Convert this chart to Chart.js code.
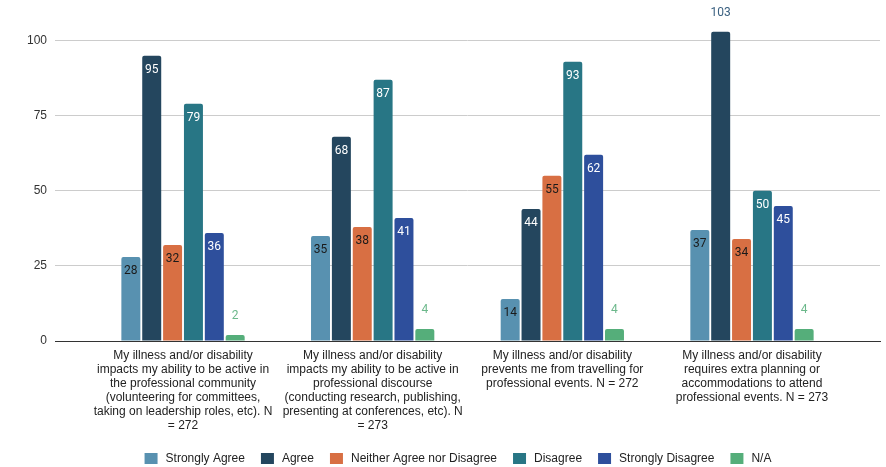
<!DOCTYPE html>
<html>
<head>
<meta charset="utf-8">
<script src="https://cdn.jsdelivr.net/npm/chart.js@4/dist/chart.umd.min.js"></script>
<style>
  html, body { margin: 0; padding: 0; background: #fff; }
  #wrap { width: 886px; height: 467px; }
</style>
</head>
<body>
<div id="wrap"><canvas id="chart"></canvas></div>
<script>
// Categories (x axis labels, already wrapped like the original)
var categories = [
  ["My illness and/or disability", "impacts my ability to be active in", "the professional community", "(volunteering for committees,", "taking on leadership roles, etc). N", "= 272"],
  ["My illness and/or disability", "impacts my ability to be active in", "professional discourse", "(conducting research, publishing,", "presenting at conferences, etc). N", "= 273"],
  ["My illness and/or disability", "prevents me from travelling for", "professional events. N = 272"],
  ["My illness and/or disability", "requires extra planning or", "accommodations to attend", "professional events. N = 273"]
];

// Series values
var stronglyAgree = [28, 35, 14, 37];
var agree = [95, 68, 44, 103];
var neither = [32, 38, 55, 34];
var disagree = [79, 87, 93, 50];
var stronglyDisagree = [36, 41, 62, 45];
var notApplicable = [2, 4, 4, 4];

var yTicks = [0, 25, 50, 75, 100];

var AXIS_FONT = "'Liberation Sans', Arial, sans-serif";
var LABEL_FONT = "Roboto, 'Liberation Sans', Arial, sans-serif";

function toPoints(values) {
  return values.map(function (v, i) { return { x: i, y: v }; });
}

var series = [
  { label: "Strongly Agree", data: stronglyAgree, color: "#5891b0", inside: "#1a1a1a", outside: "#5891b0" },
  { label: "Agree", data: agree, color: "#24465e", inside: "#ffffff", outside: "#3a6080" },
  { label: "Neither Agree nor Disagree", data: neither, color: "#d86f43", inside: "#1a1a1a", outside: "#d86f43" },
  { label: "Disagree", data: disagree, color: "#287685", inside: "#ffffff", outside: "#287685" },
  { label: "Strongly Disagree", data: stronglyDisagree, color: "#2e4f9c", inside: "#ffffff", outside: "#2e4f9c" },
  { label: "N/A", data: notApplicable, color: "#55ae7a", inside: "#ffffff", outside: "#6cb88b" }
];

// Value labels: inside the top of the bar, or above it when the bar is too short / too tall
var valueLabels = {
  id: "valueLabels",
  afterDatasetsDraw: function (chart) {
    var ctx = chart.ctx;
    var area = chart.chartArea;
    ctx.save();
    ctx.font = "12px " + LABEL_FONT;
    ctx.textAlign = "center";
    ctx.textBaseline = "middle";
    chart.data.datasets.forEach(function (ds, di) {
      var meta = chart.getDatasetMeta(di);
      meta.data.forEach(function (bar, i) {
        var v = ds.data[i].y;
        var h = bar.base - bar.y;
        var outside = h < 22 || (bar.y - area.top) < 25;
        if (outside) {
          ctx.fillStyle = series[di].outside;
          ctx.fillText(String(v), bar.x, bar.y - 19);
        } else {
          ctx.fillStyle = series[di].inside;
          ctx.fillText(String(v), bar.x, bar.y + 14);
        }
      });
    });
    ctx.restore();
  }
};

// Squeeze the legend box so the row sits close to the bottom edge,
// and centre the row a bit right of the canvas centre like the original
var legendFit = {
  id: "legendFit",
  beforeInit: function (chart) {
    var origFit = chart.legend.fit;
    chart.legend.fit = function () {
      origFit.bind(chart.legend)();
      this.height -= 9;
    };
  },
  afterLayout: function (chart) {
    chart.legend.left += 34;
  }
};

new Chart(document.getElementById("chart").getContext("2d"), {
  type: "bar",
  data: {
    datasets: series.map(function (s) {
      return {
        label: s.label,
        data: toPoints(s.data),
        backgroundColor: s.color,
        borderColor: s.color,
        borderWidth: 0,
        borderRadius: { topLeft: 2, topRight: 2 },
        borderSkipped: "bottom",
        categoryPercentage: 0.66,
        barPercentage: 0.91
      };
    })
  },
  options: {
    responsive: true,
    maintainAspectRatio: false,
    animation: false,
    layout: { padding: { top: 0, right: 6, bottom: 0, left: 0 } },
    plugins: {
      tooltip: { enabled: false },
      legend: {
        position: "bottom",
        labels: {
          font: { family: AXIS_FONT, size: 12 },
          color: "#222",
          boxWidth: 17,
          boxHeight: 15,
          padding: 14,
          // white outline trims the swatch and leaves a wider gap before the text
          generateLabels: function (chart) {
            return chart.data.datasets.map(function (ds, i) {
              return {
                text: ds.label,
                fillStyle: ds.backgroundColor,
                strokeStyle: "#ffffff",
                lineWidth: 4,
                fontColor: "#222",
                hidden: !chart.isDatasetVisible(i),
                datasetIndex: i
              };
            });
          }
        }
      }
    },
    scales: {
      x: {
        type: "linear",
        min: -0.675,
        max: 3.675,
        offset: false,
        afterBuildTicks: function (scale) {
          scale.ticks = categories.map(function (c, i) { return { value: i }; });
        },
        afterFit: function (scale) { scale.height = 96; },
        ticks: {
          autoSkip: false,
          maxRotation: 0,
          padding: 8,
          color: "#222",
          font: { family: AXIS_FONT, size: 12, lineHeight: 1.16 },
          callback: function (value) { return categories[value]; }
        },
        grid: { display: false, drawTicks: false, tickLength: 0 },
        border: { display: true, color: "#333", width: 1 }
      },
      y: {
        min: 0,
        max: 108.5,
        afterBuildTicks: function (scale) {
          scale.ticks = yTicks.map(function (v) { return { value: v }; });
        },
        afterFit: function (scale) { scale.width = 55; },
        ticks: {
          padding: 8,
          color: "#333",
          font: { family: AXIS_FONT, size: 12 }
        },
        grid: { color: "#cccccc", drawTicks: false },
        border: { display: false }
      }
    }
  },
  plugins: [valueLabels, legendFit]
});
</script>
</body>
</html>
